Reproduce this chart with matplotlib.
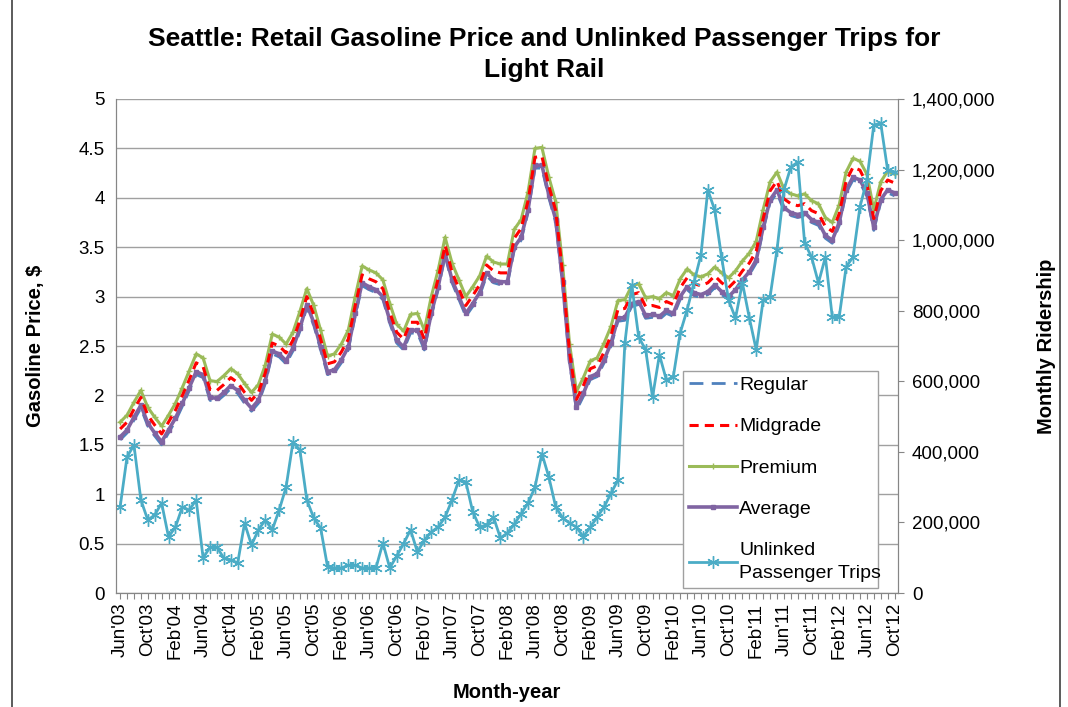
import matplotlib

matplotlib.use("Agg")
import matplotlib.pyplot as plt
import numpy as np
import pandas as pd
from matplotlib.lines import Line2D
from matplotlib.ticker import FuncFormatter

plt.rcParams["font.family"] = ["Liberation Sans", "DejaVu Sans"]

# monthly data, Jun 2003 .. Oct 2012
months = pd.date_range("2003-06-01", periods=113, freq="MS")

regular = [
    1.55, 1.62, 1.75, 1.87, 1.69, 1.59, 1.50,
    1.62, 1.74, 1.89, 2.05, 2.21, 2.18, 1.95, 1.94, 2.00, 2.07, 2.02, 1.92,
    1.84, 1.92, 2.12, 2.42, 2.39, 2.32, 2.45, 2.65, 2.89, 2.71, 2.46, 2.21,
    2.23, 2.33, 2.46, 2.80, 3.11, 3.07, 3.04, 2.97, 2.73, 2.53, 2.46, 2.63,
    2.63, 2.46, 2.80, 3.07, 3.41, 3.14, 2.97, 2.80, 2.90, 3.01, 3.21, 3.14,
    3.12, 3.12, 3.47, 3.57, 3.85, 4.30, 4.30, 4.00, 3.75, 3.12, 2.33, 1.85,
    1.99, 2.16, 2.19, 2.33, 2.50, 2.75, 2.76, 2.90, 2.92, 2.78, 2.79, 2.77,
    2.83, 2.80, 2.97, 3.07, 3.01, 2.99, 3.02, 3.09, 3.02, 2.97, 3.04, 3.14,
    3.22, 3.34, 3.67, 3.95, 4.05, 3.87, 3.82, 3.80, 3.82, 3.75, 3.72, 3.59,
    3.54, 3.72, 4.05, 4.18, 4.15, 4.02, 3.67, 3.95, 4.05, 4.02,
]
midgrade = [
    1.66, 1.73, 1.86, 1.98, 1.80, 1.70, 1.61,
    1.73, 1.85, 2.00, 2.16, 2.33, 2.29, 2.06, 2.05, 2.11, 2.18, 2.13, 2.03,
    1.95, 2.03, 2.23, 2.53, 2.50, 2.43, 2.56, 2.76, 3.00, 2.82, 2.57, 2.32,
    2.34, 2.44, 2.57, 2.91, 3.22, 3.18, 3.15, 3.08, 2.84, 2.64, 2.57, 2.74,
    2.74, 2.57, 2.91, 3.18, 3.52, 3.25, 3.08, 2.91, 3.01, 3.12, 3.32, 3.26,
    3.24, 3.24, 3.59, 3.69, 3.97, 4.41, 4.42, 4.12, 3.87, 3.23, 2.44, 1.96,
    2.10, 2.27, 2.30, 2.44, 2.61, 2.87, 2.88, 3.02, 3.04, 2.90, 2.91, 2.89,
    2.95, 2.92, 3.09, 3.19, 3.13, 3.11, 3.14, 3.21, 3.14, 3.09, 3.16, 3.26,
    3.34, 3.46, 3.79, 4.07, 4.17, 3.99, 3.94, 3.92, 3.94, 3.87, 3.84, 3.71,
    3.66, 3.84, 4.17, 4.31, 4.28, 4.14, 3.79, 4.07, 4.18, 4.15,
]
premium = [
    1.73, 1.80, 1.93, 2.05, 1.88, 1.78, 1.69,
    1.80, 1.92, 2.08, 2.25, 2.42, 2.38, 2.15, 2.14, 2.20, 2.27, 2.22, 2.12,
    2.03, 2.11, 2.31, 2.62, 2.59, 2.52, 2.64, 2.85, 3.08, 2.91, 2.66, 2.40,
    2.42, 2.52, 2.66, 3.00, 3.31, 3.27, 3.24, 3.17, 2.93, 2.72, 2.65, 2.82,
    2.83, 2.66, 3.00, 3.27, 3.60, 3.34, 3.17, 3.00, 3.10, 3.21, 3.41, 3.35,
    3.33, 3.33, 3.68, 3.78, 4.06, 4.50, 4.51, 4.21, 3.96, 3.32, 2.52, 2.04,
    2.18, 2.35, 2.38, 2.53, 2.70, 2.96, 2.97, 3.11, 3.13, 2.99, 3.00, 2.98,
    3.04, 3.01, 3.18, 3.28, 3.22, 3.20, 3.23, 3.30, 3.24, 3.19, 3.26, 3.36,
    3.44, 3.56, 3.88, 4.16, 4.26, 4.09, 4.04, 4.02, 4.04, 3.97, 3.94, 3.80,
    3.75, 3.93, 4.26, 4.40, 4.37, 4.24, 3.88, 4.16, 4.27, 4.24,
]
average = [
    1.58, 1.65, 1.78, 1.90, 1.72, 1.62, 1.53,
    1.65, 1.77, 1.92, 2.08, 2.24, 2.21, 1.98, 1.97, 2.03, 2.10, 2.05, 1.95,
    1.87, 1.95, 2.15, 2.45, 2.42, 2.35, 2.48, 2.68, 2.92, 2.74, 2.49, 2.24,
    2.26, 2.36, 2.49, 2.83, 3.14, 3.10, 3.07, 3.00, 2.76, 2.56, 2.49, 2.66,
    2.66, 2.49, 2.83, 3.10, 3.44, 3.17, 3.00, 2.83, 2.93, 3.04, 3.24, 3.17,
    3.15, 3.15, 3.50, 3.60, 3.88, 4.33, 4.33, 4.03, 3.78, 3.15, 2.36, 1.88,
    2.02, 2.19, 2.22, 2.36, 2.53, 2.78, 2.79, 2.93, 2.95, 2.81, 2.82, 2.80,
    2.86, 2.83, 3.00, 3.10, 3.04, 3.02, 3.05, 3.12, 3.05, 3.00, 3.07, 3.17,
    3.25, 3.37, 3.70, 3.98, 4.08, 3.90, 3.85, 3.83, 3.85, 3.78, 3.75, 3.62,
    3.57, 3.75, 4.08, 4.21, 4.18, 4.05, 3.70, 3.98, 4.08, 4.05,
]
# unlinked passenger trips, thousands
trips_k = [
    244, 386, 419, 264, 207, 221, 255,
    159, 187, 244, 235, 264, 99, 130, 130, 99, 94, 85, 198,
    136, 179, 207, 179, 235, 300, 428, 405, 264, 213, 184, 74,
    71, 71, 79, 79, 71, 71, 71, 142, 71, 105, 140, 179,
    116, 150, 173, 187, 215, 264, 320, 315, 230, 187, 193, 215,
    156, 170, 195, 225, 255, 300, 395, 329, 244, 213, 198, 187,
    159, 187, 215, 244, 283, 320, 708, 873, 725, 690, 555, 675,
    604, 612, 737, 802, 880, 958, 1142, 1085, 950, 830, 779, 879,
    780, 689, 830, 839, 972, 1142, 1207, 1221, 992, 952, 879, 952,
    782, 782, 924, 952, 1094, 1170, 1326, 1332, 1199, 1193,
]

x = np.arange(len(months))
trips = np.array(trips_k) * 1000
tick_labels = [m.strftime("%b'%y") if i % 4 == 0 else "" for i, m in enumerate(months)]

fig = plt.figure(figsize=(10.68, 7.07), dpi=100)
ax = fig.add_axes([0.1086, 0.1612, 0.7322, 0.6988])
ax2 = ax.twinx()

h1, = ax.plot(x, regular, color="#4F81BD", lw=2, ls=(0, (5, 3)), label="Regular", zorder=3)
h2, = ax.plot(x, midgrade, color="#FF0000", lw=2.2, ls=(0, (3, 2)), label="Midgrade", zorder=4)
h3, = ax.plot(x, premium, color="#9BBB59", lw=2.2, marker="+", ms=4, mew=1, label="Premium", zorder=3)
h4, = ax.plot(x, average, color="#8064A2", lw=2.6, marker="s", ms=3.5, label="Average", zorder=3)
h5, = ax2.plot(x, trips, color="#4BACC6", lw=2, marker=(6, 2, 0), ms=9, mew=1,
               label="Unlinked\nPassenger Trips")

ax.set_xlim(-0.6, 112.5)
ax.set_ylim(0, 5)
ax.set_yticks(np.arange(0, 5.01, 0.5))
ax.yaxis.set_major_formatter(FuncFormatter(lambda v, p: f"{v:g}"))
ax2.set_ylim(0, 1400000)
ax2.set_yticks(np.arange(0, 1400001, 200000))
ax2.yaxis.set_major_formatter(FuncFormatter(lambda v, p: f"{v:,.0f}"))

ax.set_xticks(x)
ax.set_xticklabels(tick_labels, rotation=90, fontsize=13.5)
ax.tick_params(axis="x", length=4, color="#868686", pad=3)
ax.tick_params(axis="y", labelsize=13.5, length=0, pad=8)
ax2.tick_params(axis="y", labelsize=13.5, length=4, color="#868686", pad=6)

ax.grid(axis="y", color="#A0A0A0", lw=1)
ax.set_axisbelow(True)
for a in (ax, ax2):
    for s in a.spines.values():
        s.set_color("#868686")
    a.spines["top"].set_visible(False)

ax.set_ylabel("Gasoline Price, $", fontsize=14.5, fontweight="bold", labelpad=24)
ax2.set_ylabel("Monthly Ridership", fontsize=14.5, fontweight="bold", labelpad=30)
ax.set_xlabel("Month-year", fontsize=14.5, fontweight="bold", labelpad=17)
fig.text(0.51, 0.962, "Seattle: Retail Gasoline Price and Unlinked Passenger Trips for\nLight Rail",
         ha="center", va="top", fontsize=19, fontweight="bold", linespacing=1.35)

leg = ax2.legend(handles=[h1, h2, h3, h4, h5], loc="lower left",
                 bbox_to_anchor=(0.725, 0.01, 0.25, 0.437), mode="expand", borderaxespad=0,
                 fontsize=14, labelspacing=1.22, handlelength=2.5, handletextpad=0.1,
                 fancybox=False, framealpha=1, borderpad=0.3)
leg.get_frame().set_edgecolor("#A0A0A0")
leg.get_texts()[-1].set_linespacing(1.5)

# outer frame (left and right edges visible)
for fx in (12 / 1068, 1060 / 1068):
    fig.add_artist(Line2D([fx, fx], [0, 1], transform=fig.transFigure, color="#404040", lw=1.2))

fig.savefig("out.png", dpi=100)
